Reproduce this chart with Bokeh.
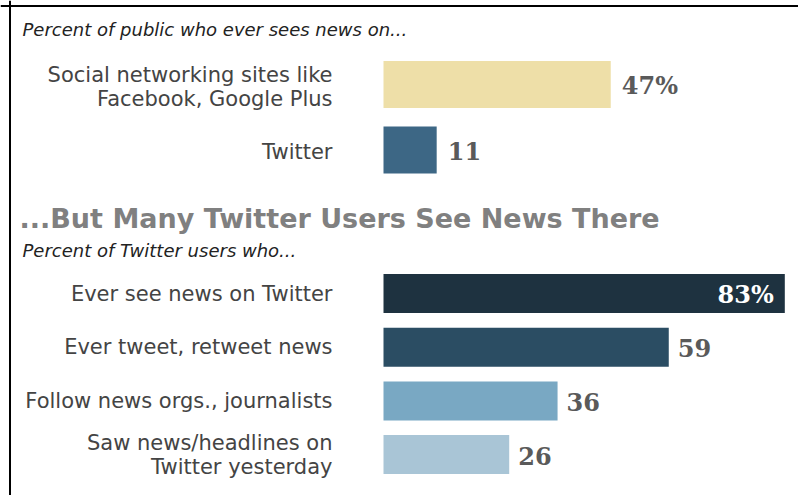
from bokeh.plotting import figure
from bokeh.models import Range1d, Span, Label, ColumnDataSource
from bokeh.core.properties import value
from bokeh.embed import file_html
from bokeh.resources import INLINE

# ---- data ----
top_labels = ["Social networking sites like\nFacebook, Google Plus", "Twitter"]
top_values = [47, 11]
top_texts = ["47%", "11"]
top_colors = ["#EEDFA8", "#3D6785"]

bottom_labels = ["Ever see news on Twitter", "Ever tweet, retweet news",
                 "Follow news orgs., journalists", "Saw news/headlines on\nTwitter yesterday"]
bottom_values = [83, 59, 36, 26]
bottom_texts = ["83%", "59", "36", "26"]
bottom_colors = ["#1E3240", "#2B4D63", "#79A8C3", "#A9C5D6"]

title_top = "Percent of public who ever sees news on..."
heading = "...But Many Twitter Users See News There"
title_bottom = "Percent of Twitter users who..."

# ---- layout ----
W, H = 798, 495
ORIGIN_PX = 383.0
PPU = 4.835
TOP_Y0, TOP_PITCH, TOP_BAR_H = 84.0, 65.5, 47.0
BOT_Y0, BOT_PITCH, BOT_BAR_H = 293.0, 53.7, 39.0

SANS = value("DejaVu Sans")
SERIF = value("DejaVu Serif")

p = figure(width=W, height=H, output_backend="svg", toolbar_location=None,
           x_range=Range1d(-ORIGIN_PX / PPU, (W - ORIGIN_PX) / PPU),
           y_range=Range1d(H, 0), x_axis_type=None, y_axis_type=None,
           min_border=0, outline_line_color=None, background_fill_color="white",
           border_fill_color="white")
p.xgrid.visible = False
p.ygrid.visible = False

top_y = [TOP_Y0 + i * TOP_PITCH for i in range(len(top_values))]
bot_y = [BOT_Y0 + i * BOT_PITCH for i in range(len(bottom_values))]

top_src = ColumnDataSource(dict(y=top_y, v=top_values, c=top_colors, lab=top_labels,
                                t=top_texts, z=[0] * len(top_values)))
bot_src = ColumnDataSource(dict(y=bot_y, v=bottom_values, c=bottom_colors, lab=bottom_labels,
                                t=bottom_texts, z=[0] * len(bottom_values)))

p.hbar(y="y", left=0, right="v", height=TOP_BAR_H, fill_color="c", line_color=None, source=top_src)
p.hbar(y="y", left=0, right="v", height=BOT_BAR_H, fill_color="c", line_color=None, source=bot_src)

# category labels
p.text(x="z", y="y", text="lab", x_offset=-51, y_offset=2, text_align="right", text_baseline="middle",
       text_font=SANS, text_font_size="21px", text_color="#444444",
       text_line_height=1.0, source=top_src)
p.text(x="z", y="y", text="lab", x_offset=-51, y_offset=0, text_align="right", text_baseline="middle",
       text_font=SANS, text_font_size="21px", text_color="#444444",
       text_line_height=1.0, source=bot_src)

# value labels
VAL_SIZE = "24px"
p.text(x="v", y="y", text="t", x_offset=11, y_offset=1, text_align="left", text_baseline="middle",
       text_font=SERIF, text_font_style="bold", text_font_size=VAL_SIZE, text_color="#5a5a5a",
       source=top_src)

outside = ColumnDataSource(dict(x=bottom_values[1:], y=bot_y[1:], t=bottom_texts[1:]))
inside = ColumnDataSource(dict(x=bottom_values[:1], y=bot_y[:1], t=bottom_texts[:1]))
p.text(x="x", y="y", text="t", x_offset=9, y_offset=1, text_align="left", text_baseline="middle",
       text_font=SERIF, text_font_style="bold", text_font_size=VAL_SIZE, text_color="#5a5a5a",
       source=outside)
p.text(x="x", y="y", text="t", x_offset=-11, y_offset=1, text_align="right", text_baseline="middle",
       text_font=SERIF, text_font_style="bold", text_font_size=VAL_SIZE, text_color="white",
       source=inside)

# titles
p.add_layout(Label(x=22, y=H - 29, x_units="screen", y_units="screen", text=title_top,
                   text_font="DejaVu Sans", text_font_style="italic", text_font_size="18px",
                   text_color="#222222", text_baseline="middle"))
p.add_layout(Label(x=19, y=H - 218, x_units="screen", y_units="screen", text=heading,
                   text_font="DejaVu Sans", text_font_style="bold", text_font_size="27px",
                   text_color="#808080", text_baseline="middle"))
p.add_layout(Label(x=22, y=H - 250, x_units="screen", y_units="screen", text=title_bottom,
                   text_font="DejaVu Sans", text_font_style="italic", text_font_size="18px",
                   text_color="#222222", text_baseline="middle"))

# frame lines (top and left)
p.add_layout(Span(location=5.5, dimension="width", line_color="black", line_width=2))
p.add_layout(Span(location=(9.5 - ORIGIN_PX) / PPU, dimension="height", line_color="black", line_width=2))

open("out.html", "w").write(file_html(p, INLINE))
